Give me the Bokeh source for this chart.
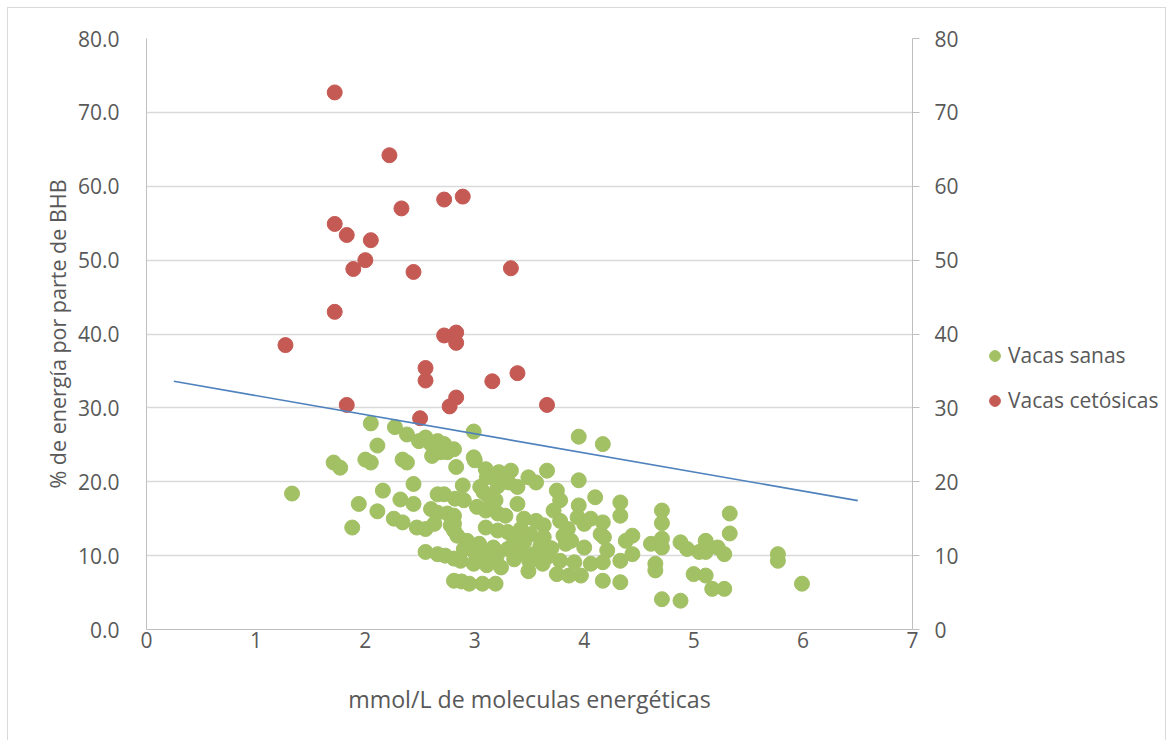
from bokeh.plotting import figure
from bokeh.layouts import row
from bokeh.models import (LinearAxis, Range1d, Legend, LegendItem, FixedTicker,
                          NumeralTickFormatter, ColumnDataSource)
from bokeh.embed import file_html
from bokeh.resources import INLINE

# Vacas sanas: mmol/L de moleculas energeticas vs % de energia por BHB
sanas_x = [
    1.33, 1.71, 1.77, 1.88, 1.94, 2.00, 2.05, 2.05, 2.11, 2.11, 2.16, 2.27,
    2.26, 2.34, 2.32, 2.34, 2.38, 2.38, 2.44, 2.44, 2.47, 2.55,
    2.49, 2.55, 2.60, 2.66, 2.72, 2.75, 2.81, 2.61, 2.69,
    2.55, 2.66, 2.73, 2.81, 2.81, 2.88, 2.60, 2.66, 2.75, 2.81, 2.81,
    2.66, 2.72, 2.82, 2.90, 2.83, 2.89, 2.99, 2.99, 3.00, 3.10, 3.11,
    3.05, 3.08, 3.02, 3.10, 3.13, 3.19, 3.21, 3.28, 3.22, 3.33, 3.24, 3.21,
    3.31, 3.39, 3.39, 3.49, 3.56, 3.66, 3.45, 3.56, 3.63, 3.72, 3.78, 3.85,
    3.75, 3.78, 3.95, 3.95, 4.17, 3.95, 3.94, 4.00, 4.06, 4.17, 4.10,
    4.33, 4.33, 2.63, 2.78, 2.81, 3.10, 3.21, 3.30, 3.42, 3.51, 3.63,
    3.81, 3.88, 4.00, 4.15, 2.84, 2.93, 3.04, 3.17, 3.30, 3.42,
    3.54, 3.66, 3.78, 3.91, 4.06, 4.17, 2.87, 2.99, 3.11, 3.24, 3.49,
    3.75, 3.86, 3.97, 4.17, 2.95, 3.07, 3.19, 3.83, 4.18, 4.21, 4.33, 4.33,
    4.38, 4.44, 4.44, 4.61, 4.71, 4.71, 4.71, 4.71, 4.65, 4.65, 4.71, 4.88,
    4.88, 4.94, 5.00, 5.11, 5.05, 5.11, 5.11, 5.17, 5.28, 5.22, 5.28,
    5.33, 5.33, 5.77, 5.77, 5.99,
    3.36, 3.60, 3.20, 3.36, 3.50, 3.62, 2.90, 3.00, 3.10, 3.70, 3.45,
]
sanas_y = [
    18.4, 22.6, 21.9, 13.8, 17.0, 23.0, 22.6, 27.9, 24.9, 16.0, 18.8, 27.4,
    15.0, 14.5, 17.6, 23.0, 22.6, 26.4, 19.7, 17.0, 13.8, 13.6,
    25.5, 26.0, 25.1, 25.5, 25.1, 24.0, 24.4, 23.5, 24.0,
    10.5, 10.2, 10.0, 9.6, 6.6, 6.5, 16.3, 15.8, 15.7, 15.4, 14.3,
    18.3, 18.3, 17.7, 17.5, 22.0, 19.5, 26.8, 23.3, 22.9, 21.7, 20.6,
    19.3, 18.6, 16.6, 16.1, 17.9, 17.5, 15.7, 15.4, 21.3, 21.5, 20.2, 19.4,
    19.9, 19.3, 17.0, 20.6, 19.9, 21.5, 15.0, 14.7, 14.1, 16.1, 14.7, 13.6,
    18.8, 17.5, 20.2, 26.1, 25.1, 16.8, 15.2, 14.3, 15.0, 14.5, 17.9,
    17.2, 15.4, 14.3, 14.1, 13.4, 13.8, 13.4, 13.2, 13.6, 12.9, 12.5,
    12.7, 12.0, 11.1, 12.9, 12.7, 12.0, 11.6, 11.1, 10.9, 10.5,
    10.2, 9.8, 9.3, 9.1, 8.9, 9.1, 9.3, 8.9, 8.7, 8.4, 7.9,
    7.5, 7.3, 7.3, 6.6, 6.2, 6.2, 6.2, 11.6, 12.5, 10.7, 9.3, 6.4,
    12.0, 12.7, 10.2, 11.6, 16.1, 14.4, 12.3, 11.1, 8.9, 8.0, 4.1, 3.9,
    11.8, 10.9, 7.5, 7.3, 10.5, 12.0, 10.5, 5.5, 5.5, 11.1, 10.2,
    15.7, 13.0, 10.2, 9.3, 6.2,
    12.1, 11.4, 9.9, 9.5, 9.2, 8.9, 10.9, 10.4, 10.1, 11.0, 11.8,
]

# Vacas cetosicas
cetosicas_x = [
    1.72, 2.22, 2.72, 2.89, 2.33, 1.72, 1.83, 2.05, 2.00, 1.89, 2.44, 3.33,
    1.72, 1.27, 2.72, 2.83, 2.83, 2.55, 2.55, 3.16, 3.39, 2.83, 2.77, 3.66,
    1.83, 2.50,
]
cetosicas_y = [
    72.7, 64.2, 58.2, 58.6, 57.0, 54.9, 53.4, 52.7, 50.0, 48.8, 48.4, 48.9,
    43.0, 38.5, 39.8, 40.2, 38.8, 35.4, 33.7, 33.6, 34.7, 31.4, 30.2, 30.4,
    30.4, 28.6,
]

# Linear trend line endpoints
tendencia_x = [0.25, 6.5]
tendencia_y = [33.6, 17.45]

x_ticks = [0, 1, 2, 3, 4, 5, 6, 7]
y_ticks = [0, 10, 20, 30, 40, 50, 60, 70, 80]

FONT = "Open Sans"
TXT = "#595959"
AXIS = "#bfbfbf"
GRID = "#d9d9d9"
VERDE = "#a2c064"
ROJO = "#c55a54"

PLOT_W = 959
LEG_W = 1157 - PLOT_W
H = 732

p = figure(width=PLOT_W, height=H,
           x_range=Range1d(0, 7), y_range=Range1d(0, 80),
           output_backend="svg", toolbar_location=None,
           min_border_left=138, min_border_right=PLOT_W - 904,
           min_border_top=30, min_border_bottom=111,
           x_axis_label="mmol/L de moleculas energéticas",
           y_axis_label="% de energía por parte de BHB")
p.outline_line_color = None
p.background_fill_color = "white"
p.border_fill_color = "white"

p.xgrid.grid_line_color = None
p.ygrid.grid_line_color = GRID
p.ygrid.grid_line_width = 1.5
p.ygrid.ticker = FixedTicker(ticks=y_ticks)

xa = p.xaxis[0]
xa.ticker = FixedTicker(ticks=x_ticks)
xa.axis_line_color = AXIS
xa.major_tick_line_color = None
xa.minor_tick_line_color = None
xa.major_label_standoff = -4
xa.axis_label_standoff = 32

ya = p.yaxis[0]
ya.ticker = FixedTicker(ticks=y_ticks)
ya.formatter = NumeralTickFormatter(format="0.0")
ya.axis_line_color = AXIS
ya.major_tick_line_color = None
ya.minor_tick_line_color = None
ya.major_label_standoff = 21
ya.axis_label_standoff = 3

ra = LinearAxis(ticker=FixedTicker(ticks=y_ticks),
                formatter=NumeralTickFormatter(format="0"))
ra.axis_line_color = AXIS
ra.major_tick_line_color = AXIS
ra.major_tick_in = 0
ra.major_tick_out = 7
ra.minor_tick_line_color = None
ra.major_label_standoff = 15
p.add_layout(ra, "right")

for ax in (xa, ya, ra):
    ax.major_label_text_font = FONT
    ax.major_label_text_font_size = "21px"
    ax.major_label_text_color = TXT
    ax.axis_label_text_font = FONT
    ax.axis_label_text_font_style = "normal"
    ax.axis_label_text_color = TXT
xa.axis_label_text_font_size = "23.2px"
ya.axis_label_text_font_size = "21.5px"

src_s = ColumnDataSource(data=dict(x=sanas_x, y=sanas_y))
src_c = ColumnDataSource(data=dict(x=cetosicas_x, y=cetosicas_y))

p.scatter("x", "y", source=src_s, size=15, marker="circle",
          fill_color=VERDE, line_color=VERDE)
p.scatter("x", "y", source=src_c, size=15, marker="circle",
          fill_color=ROJO, line_color=ROJO)
p.line(tendencia_x, tendencia_y, line_color="#4f81bd", line_width=1.6)

# Legend panel to the right of the chart; its key renderers hold no
# drawable points (NaN), they only supply the legend swatches.
nan = float("nan")
q = figure(width=LEG_W, height=H, x_range=Range1d(0, 1), y_range=Range1d(0, 1),
           output_backend="svg", toolbar_location=None,
           min_border=0, x_axis_type=None, y_axis_type=None)
q.outline_line_color = None
q.grid.grid_line_color = None
q.border_fill_color = "white"
k_s = q.scatter(x=[nan], y=[nan], size=15, marker="circle",
                fill_color=VERDE, line_color=VERDE)
k_c = q.scatter(x=[nan], y=[nan], size=15, marker="circle",
                fill_color=ROJO, line_color=ROJO)

legend = Legend(items=[LegendItem(label="Vacas sanas", renderers=[k_s]),
                       LegendItem(label="Vacas cetósicas", renderers=[k_c])],
                location=(14, 215), orientation="vertical")
legend.label_text_font = FONT
legend.label_text_font_size = "21px"
legend.label_text_color = TXT
legend.border_line_color = None
legend.background_fill_alpha = 0
legend.padding = 0
legend.margin = 0
legend.glyph_width = 27
legend.glyph_height = 27
legend.label_standoff = 0
legend.label_height = 24
legend.spacing = 17
q.add_layout(legend, "center")

page = row(p, q, margin=(7, 0, 0, 7),
           styles={"border": "1px solid #d9d9d9", "background": "white"})

open("out.html", "w").write(file_html(page, INLINE))
